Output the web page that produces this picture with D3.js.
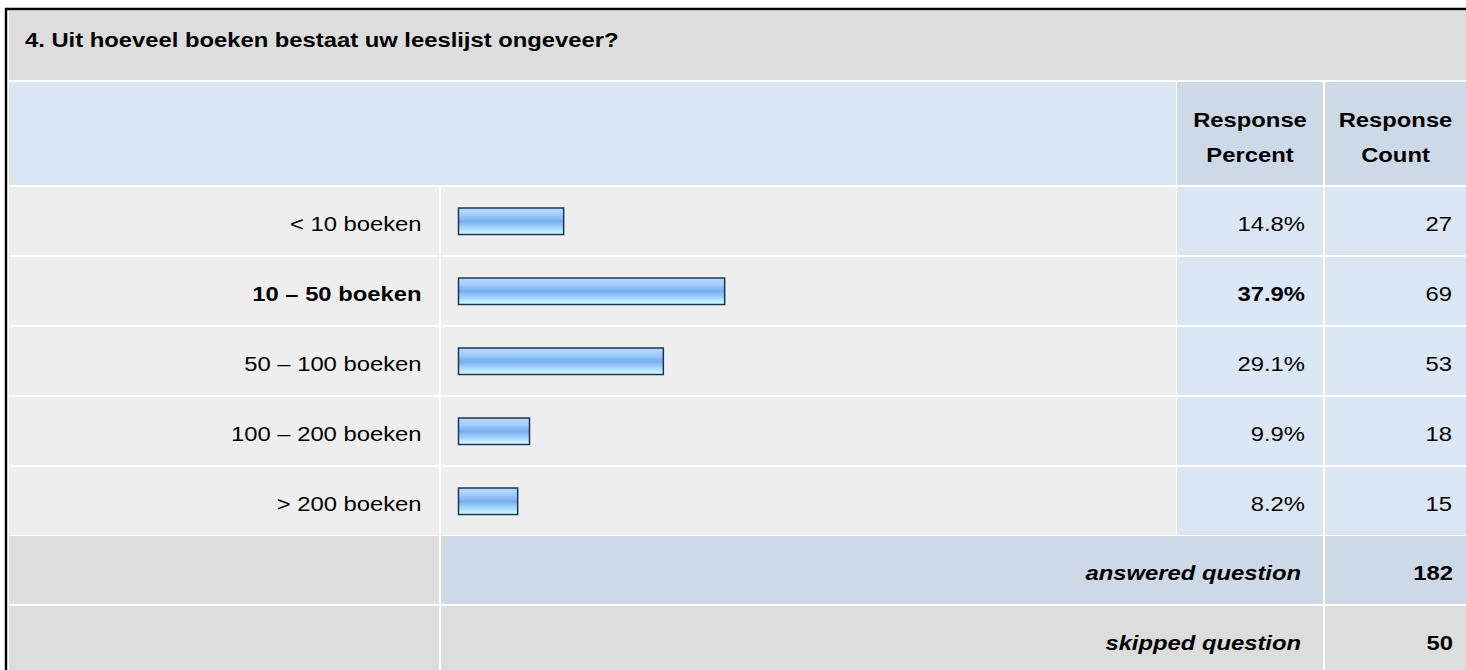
<!DOCTYPE html>
<html>
<head>
<meta charset="utf-8">
<script src="https://cdn.jsdelivr.net/npm/d3@7"></script>
<style>
  body { margin: 0; background: #fff; }
  text { font-family: Arial, "Liberation Sans", sans-serif; fill: #000; }
</style>
</head>
<body>
<svg id="chart"></svg>
<script>
const question = "4. Uit hoeveel boeken bestaat uw leeslijst ongeveer?";
const categories = ["< 10 boeken", "10 \u2013 50 boeken", "50 \u2013 100 boeken", "100 \u2013 200 boeken", "> 200 boeken"];
const percents = [14.8, 37.9, 29.1, 9.9, 8.2];
const counts = [27, 69, 53, 18, 15];
const headerLabels = [["Response", "Percent"], ["Response", "Count"]];
const summaryLabels = ["answered question", "skipped question"];
const summaryCounts = [182, 50];

class SurveyTable {

    constructor( config ) {
        this.config = {
            parent: config.parent,
            width: config.width || 1466,
            height: config.height || 670,
            stretch: 1.19
        }
        this.init();
    }

    init() {
        let self = this;

        self.svg = d3.select( self.config.parent )
            .attr('width', self.config.width)
            .attr('height', self.config.height);

        // column edges: label | bar | percent | count
        self.col = {
            label: [9, 439],
            bar: [441, 1176],
            pct: [1177, 1323],
            cnt: [1325, 1470]
        };

        self.yscale = d3.scaleBand()
            .domain( categories )
            .range( [187, 535] )
            .paddingInner( 2/70 );

        self.xscale = d3.scaleLinear()
            .domain( [0, 100] )
            .range( [2, 699] );

        const defs = self.svg.append('defs');
        const grad = defs.append('linearGradient')
            .attr('id', 'barfill')
            .attr('x1', 0).attr('y1', 0).attr('x2', 0).attr('y2', 1);
        [[0, '#b9ddff'], [0.25, '#a2cdfb'], [0.5, '#78acee'], [0.72, '#9fd1fb'], [1, '#d6ffff']]
            .forEach(s => grad.append('stop').attr('offset', s[0]).attr('stop-color', s[1]));

        self.frame = self.svg.append('g');
        self.body = self.svg.append('g');
    }

    text( g, str, x, y, anchor, weight, style ) {
        let self = this;
        return g.append('text')
            .attr('transform', `translate(${x},${y}) scale(${self.config.stretch},1)`)
            .attr('text-anchor', anchor)
            .attr('font-size', '20px')
            .attr('font-weight', weight || 'normal')
            .attr('font-style', style || 'normal')
            .text(str);
    }

    cell( g, x0, x1, y0, y1, color ) {
        g.append('rect')
            .attr('x', x0).attr('y', y0)
            .attr('width', x1 - x0).attr('height', y1 - y0)
            .attr('fill', color);
    }

    update() {
        let self = this;
        self.maxIndex = d3.maxIndex( percents );
        self.render();
    }

    render() {
        let self = this;
        const c = self.col;
        const g = self.body;

        // outer frame
        self.frame.append('line')
            .attr('x1', 5).attr('x2', self.config.width).attr('y1', 9).attr('y2', 9)
            .attr('stroke', '#000').attr('stroke-width', 2.4);
        self.frame.append('line')
            .attr('x1', 6).attr('x2', 6).attr('y1', 8).attr('y2', self.config.height)
            .attr('stroke', '#000').attr('stroke-width', 2.4);

        // title row
        self.cell(g, c.label[0], c.cnt[1], 11, 80, '#dddddd');
        self.text(g, question, 25, 46.7, 'start', 'bold');

        // header row
        self.cell(g, c.label[0], c.bar[1], 82, 185, '#dce7f5');
        self.cell(g, c.pct[0], c.pct[1], 82, 185, '#cdd9e6');
        self.cell(g, c.cnt[0], c.cnt[1], 82, 185, '#cdd9e6');
        [c.pct, [c.cnt[0], 1466]].forEach((col, i) => {
            const cx = (col[0] + col[1]) / 2;
            self.text(g, headerLabels[i][0], cx, 126.7, 'middle', 'bold');
            self.text(g, headerLabels[i][1], cx, 161.7, 'middle', 'bold');
        });

        // data rows
        const rows = g.selectAll('g.row')
            .data(categories)
            .join('g')
            .attr('class', 'row');

        rows.each(function(d, i) {
            const row = d3.select(this);
            const y0 = self.yscale(d);
            const y1 = y0 + self.yscale.bandwidth();
            const bold = i === self.maxIndex ? 'bold' : 'normal';
            self.cell(row, c.label[0], c.label[1], y0, y1, '#eeeeee');
            self.cell(row, c.bar[0], c.bar[1], y0, y1, '#eeeeee');
            self.cell(row, c.pct[0], c.pct[1], y0, y1, '#dce7f5');
            self.cell(row, c.cnt[0], c.cnt[1], y0, y1, '#dce7f5');
            self.text(row, d, 421.5, y0 + 44, 'end', bold);
            self.text(row, percents[i].toFixed(1) + '%', 1305, y0 + 44, 'end', bold);
            self.text(row, counts[i], 1452, y0 + 44, 'end');
        });

        g.append('g')
            .selectAll('rect')
            .data(categories)
            .join('rect')
            .attr('x', 458.5)
            .attr('y', d => self.yscale(d) + self.yscale.bandwidth()/2 - 13)
            .attr('height', 26.5)
            .attr('width', (d, i) => self.xscale(percents[i]))
            .attr('fill', 'url(#barfill)')
            .attr('stroke', '#1f3556')
            .attr('stroke-width', 1.5);

        // summary rows
        const sumTops = [[536, 604], [606, 670]];
        const sumColors = ['#cdd9e6', '#dddddd'];
        summaryLabels.forEach((lab, i) => {
            const [y0, y1] = sumTops[i];
            self.cell(g, c.label[0], c.label[1], y0, y1, '#dddddd');
            self.cell(g, c.bar[0], c.pct[1], y0, y1, sumColors[i]);
            self.cell(g, c.cnt[0], c.cnt[1], y0, y1, sumColors[i]);
            self.text(g, lab, 1301, y0 + 44, 'end', 'bold', 'italic');
            self.text(g, summaryCounts[i], 1453, y0 + 44, 'end', 'bold');
        });
    }
}

let table = new SurveyTable({ parent: '#chart', width: 1466, height: 670 });
table.update();
</script>
</body>
</html>
